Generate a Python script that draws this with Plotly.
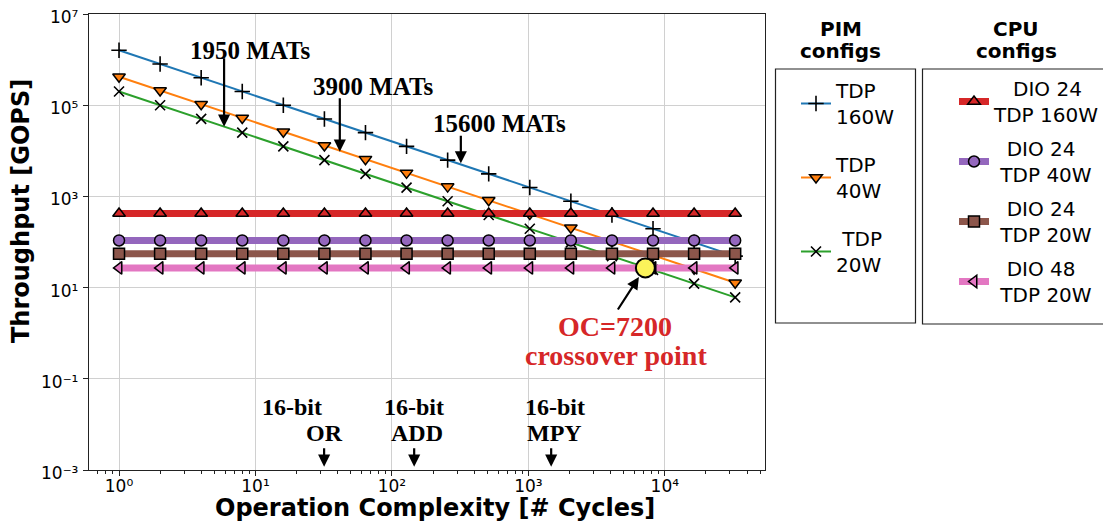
import plotly.graph_objects as go

# ---------------- data ----------------
op_cycles = [1, 2, 4, 8, 16, 32, 64, 128, 256, 512, 1024, 2048, 4096, 8192, 16384, 32768]

pim_tdp160 = [1.6e6, 8.0e5, 4.0e5, 2.0e5, 1.0e5, 5.0e4, 2.5e4, 1.25e4, 6250, 3125, 1563, 781, 391, 195, 98, 49]
pim_tdp40 = [4.2e5, 2.1e5, 1.05e5, 5.25e4, 2.62e4, 1.31e4, 6560, 3280, 1640, 820, 410, 205, 103, 51, 26, 12.8]
pim_tdp20 = [2.0e5, 1.0e5, 5.0e4, 2.5e4, 1.25e4, 6250, 3125, 1563, 781, 391, 195, 98, 49, 24.4, 12.2, 6.1]

cpu_dio24_tdp160 = [420, 420, 420, 420, 420, 420, 420, 420, 420, 420, 420, 420, 420, 420, 420, 420]
cpu_dio24_tdp40 = [108, 108, 108, 108, 108, 108, 108, 108, 108, 108, 108, 108, 108, 108, 108, 108]
cpu_dio24_tdp20 = [55, 55, 55, 55, 55, 55, 55, 55, 55, 55, 55, 55, 55, 55, 55, 55]
cpu_dio48_tdp20 = [27, 27, 27, 27, 27, 27, 27, 27, 27, 27, 27, 27, 27, 27, 27, 27]

crossover_oc = [7200]
crossover_gops = [27]

x_tick_vals = [1, 10, 100, 1000, 10000]
x_tick_text = ["10\u2070", "10\u00b9", "10\u00b2", "10\u00b3", "10\u2074"]
y_tick_vals = [1e-3, 1e-1, 1e1, 1e3, 1e5, 1e7]
y_tick_text = ["10\u207b\u00b3", "10\u207b\u00b9", "10\u00b9", "10\u00b3", "10\u2075", "10\u2077"]

pim_names = ["TDP<br>160W", "TDP<br>40W", "\u00a0TDP<br>20W"]
cpu_names = ["\u00a0\u00a0\u00a0DIO 24<br>TDP 160W", "\u00a0\u00a0DIO 24<br>\u00a0TDP 40W",
             "\u00a0\u00a0DIO 24<br>\u00a0TDP 20W", "\u00a0\u00a0DIO 48<br>\u00a0TDP 20W"]

x_title = "Operation Complexity [# Cycles]"
y_title = "Throughput [GOPS]"

# ---------------- geometry (reference pixel coords, page body has 8px margin) ----------------
OFF = 8
W, H = 1111 - OFF, 525 - OFF
L, R, T, B = 89, 765, 14, 470          # plot area in reference pixels

def px2paper_x(px):
    return (px - L) / (R - L)

def px2paper_y(py):
    return (B - py) / (B - T)

fig = go.Figure()
edge = dict(color="black", width=1.5)

pim_series = [
    (pim_tdp160, "#1f77b4", dict(symbol="cross-thin", size=11, color="black", line=dict(color="black", width=1.6))),
    (pim_tdp40, "#ff7f0e", dict(symbol="triangle-down", size=11, color="#ff7f0e", line=edge)),
    (pim_tdp20, "#2ca02c", dict(symbol="x-thin", size=10, color="black", line=dict(color="black", width=1.6))),
]
for i, (vals, col, mk) in enumerate(pim_series):
    fig.add_trace(go.Scatter(x=op_cycles, y=vals, mode="lines+markers", name=pim_names[i],
                             line=dict(color=col, width=2), marker=mk,
                             legend="legend", legendgroup=f"pim{i}"))

cpu_series = [
    (cpu_dio24_tdp160, "#d62728", "triangle-up"),
    (cpu_dio24_tdp40, "#9467bd", "circle"),
    (cpu_dio24_tdp20, "#8c564b", "square"),
    (cpu_dio48_tdp20, "#e377c2", "triangle-left"),
]
for i, (vals, col, sym) in enumerate(cpu_series):
    fig.add_trace(go.Scatter(x=op_cycles, y=vals, mode="lines+markers", name=cpu_names[i],
                             line=dict(color=col, width=7),
                             marker=dict(symbol=sym, size=11, color=col, line=edge),
                             legend="legend2", legendgroup=f"cpu{i}"))

fig.add_trace(go.Scatter(x=crossover_oc, y=crossover_gops, mode="markers", showlegend=False,
                         marker=dict(symbol="circle", size=19, color="#fbf35a",
                                     line=dict(color="black", width=2))))

# ---------------- annotations ----------------
serif = "Liberation Serif, Times New Roman, serif"
ann = []

def txt(xl, yl, s, size=24, color="black"):
    ann.append(dict(x=xl, y=yl, xref="x", yref="y", text=f"<b>{s}</b>", showarrow=False,
                    xanchor="center", yanchor="middle",
                    font=dict(family=serif, size=size, color=color)))

def arrow(xl, yl, ax, ay):
    ann.append(dict(x=xl, y=yl, xref="x", yref="y", text="", showarrow=True,
                    ax=ax, ay=ay, arrowhead=2, arrowsize=1.1, arrowwidth=2.2, arrowcolor="black"))

txt(0.960, 6.189, "1950 MATs", size=25)
arrow(0.770, 4.529, 0, -70)
txt(1.859, 5.421, "3900 MATs", size=25)
arrow(1.618, 3.980, 0, -55)
txt(2.787, 4.603, "15600 MATs", size=25)
arrow(2.505, 3.726, 0, -29)

txt(1.270, -1.612, "16-bit")
txt(1.508, -2.195, "OR")
arrow(1.503, -2.928, 0, -20)
txt(2.164, -1.612, "16-bit")
txt(2.183, -2.195, "ADD")
arrow(2.163, -2.928, 0, -20)
txt(3.192, -1.612, "16-bit")
txt(3.188, -2.195, "MPY")
arrow(3.167, -2.928, 0, -20)

txt(3.638, 0.143, "OC=7200", size=28, color="#d62728")
txt(3.639, -0.478, "crossover point", size=28, color="#d62728")
arrow(3.810, 1.232, -22, 34)

# legend titles
for xc, w1 in [(840.7, "PIM"), (1016, "CPU")]:
    ann.append(dict(x=px2paper_x(xc), y=px2paper_y(29.5), xref="paper", yref="paper",
                    text=f"<b>{w1}</b>", showarrow=False, xanchor="center", yanchor="middle",
                    font=dict(family="DejaVu Sans", size=20, color="black")))
    ann.append(dict(x=px2paper_x(xc), y=px2paper_y(51), xref="paper", yref="paper",
                    text="<b>configs</b>", showarrow=False, xanchor="center", yanchor="middle",
                    font=dict(family="DejaVu Sans", size=20, color="black")))

# axis titles
ann.append(dict(x=px2paper_x(435), y=px2paper_y(508), xref="paper", yref="paper",
                text=f"<b>{x_title}</b>", showarrow=False, xanchor="center", yanchor="middle",
                font=dict(family="DejaVu Sans", size=24, color="black")))
ann.append(dict(x=px2paper_x(21), y=px2paper_y(211), xref="paper", yref="paper",
                text=f"<b>{y_title}</b>", showarrow=False, xanchor="center", yanchor="middle",
                textangle=-90, font=dict(family="DejaVu Sans", size=24, color="black")))

# legend boxes (the second one runs off the right edge)
bx0, bx1, by0, by1 = px2paper_x(775.5), px2paper_x(915.5), px2paper_y(323), px2paper_y(69)
cx0, cx1, cy0, cy1 = px2paper_x(922.5), px2paper_x(1125), px2paper_y(324), px2paper_y(69)
shapes = [
    dict(type="rect", xref="paper", yref="paper", x0=bx0, x1=bx1, y0=by0, y1=by1,
         line=dict(color="#222", width=1.2)),
    dict(type="path", xref="paper", yref="paper",
         path=f"M {cx1},{cy0} L {cx0},{cy0} L {cx0},{cy1} L {cx1},{cy1}",
         line=dict(color="#222", width=1.2)),
]

minor_x = []
for d in [0.1, 1, 10, 100, 1000, 10000]:
    for m in range(2, 10):
        minor_x.append(d * m)

axis_common = dict(type="log", showgrid=True, gridcolor="#d0d0d0", gridwidth=1.3,
                   showline=True, linecolor="#222", linewidth=1.3, mirror=True,
                   ticks="outside", ticklen=5, tickwidth=1.2, tickcolor="#222",
                   tickfont=dict(family="DejaVu Sans", size=17, color="black"), zeroline=False,
                   ticklabeloverflow="allow")

fig.update_layout(
    width=W, height=H,
    margin=dict(l=L - OFF, r=(W + OFF) - R, t=T - OFF, b=(H + OFF) - B, autoexpand=False),
    plot_bgcolor="white", paper_bgcolor="white",
    font=dict(family="DejaVu Sans", color="black"),
    xaxis=dict(**axis_common, range=[-0.22, 4.734], tickvals=x_tick_vals, ticktext=x_tick_text,
               ticklabelstandoff=-5,
               minor=dict(tickvals=minor_x, ticks="outside", ticklen=3, tickcolor="#222", showgrid=False)),
    yaxis=dict(**axis_common, range=[-3, 7], tickvals=y_tick_vals, ticktext=y_tick_text,
               ticklabelshift=3, ticklabelstandoff=1),
    legend=dict(x=px2paper_x(796), y=px2paper_y(71), xanchor="left", yanchor="top",
                bgcolor="rgba(0,0,0,0)", borderwidth=0, tracegroupgap=19,
                font=dict(family="DejaVu Sans", size=20, color="black")),
    legend2=dict(x=px2paper_x(954), y=px2paper_y(69), xanchor="left", yanchor="top",
                 bgcolor="rgba(0,0,0,0)", borderwidth=0, tracegroupgap=5,
                 font=dict(family="DejaVu Sans", size=20, color="black")),
    annotations=ann, shapes=shapes,
)

fig.write_html("out.html")
